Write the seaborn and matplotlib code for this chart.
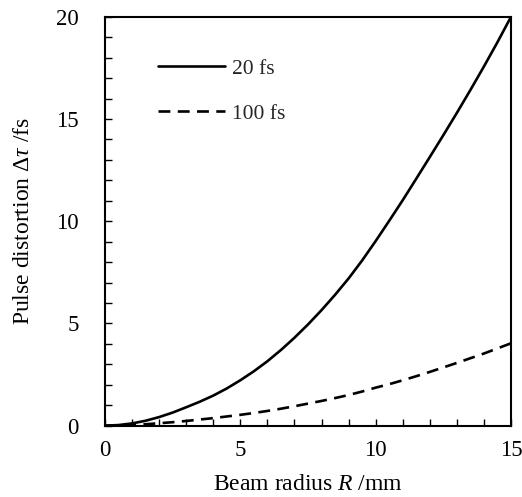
import numpy as np
import pandas as pd
import seaborn as sns
import matplotlib
matplotlib.use("Agg")
import matplotlib.pyplot as plt
from matplotlib.ticker import MultipleLocator

# Data (beam radius in mm, distortion in fs)
radius = [0, 0.5, 1, 1.5, 2, 2.5, 3, 3.5, 4, 4.5, 5, 5.5, 6, 6.5, 7, 7.5,
          8, 8.5, 9, 9.5, 10, 10.5, 11, 11.5, 12, 12.5, 13, 13.5, 14, 14.5, 15]
dist_20fs = [0.0, 0.03, 0.11, 0.24, 0.42, 0.64, 0.9, 1.17, 1.47, 1.82, 2.22, 2.66,
             3.15, 3.7, 4.3, 4.95, 5.65, 6.4, 7.2, 8.08, 9.03, 10.02, 11.03, 12.08,
             13.14, 14.21, 15.3, 16.42, 17.57, 18.76, 20.0]
dist_100fs = [0.0, 0.01, 0.03, 0.07, 0.12, 0.17, 0.23, 0.3, 0.37, 0.45, 0.53, 0.62,
              0.72, 0.83, 0.95, 1.08, 1.21, 1.35, 1.5, 1.67, 1.86, 2.03, 2.22, 2.42,
              2.63, 2.85, 3.07, 3.3, 3.53, 3.78, 4.03]
series_labels = ["20 fs", "100 fs"]

x_ticks = [0, 5, 10, 15]
y_ticks = [0, 5, 10, 15, 20]

sns.set_theme(style="white")
plt.rcParams["font.family"] = ["Liberation Serif", "DejaVu Serif"]
plt.rcParams["mathtext.fontset"] = "custom"
plt.rcParams["mathtext.rm"] = "Liberation Serif"
plt.rcParams["mathtext.it"] = "Liberation Serif:italic"
plt.rcParams["mathtext.bf"] = "Liberation Serif:bold"

df = pd.DataFrame({
    "R": radius + radius,
    "dt": dist_20fs + dist_100fs,
    "pulse": [series_labels[0]] * len(radius) + [series_labels[1]] * len(radius),
})

fig = plt.figure(figsize=(5.22, 4.97), dpi=100)
ax = fig.add_axes([0.201, 0.1435, 0.778, 0.8228])

sns.lineplot(data=df, x="R", y="dt", style="pulse",
             dashes={series_labels[0]: "", series_labels[1]: (4.5, 2.8)},
             color="black", linewidth=1.9, ax=ax, legend=True)

ax.set_xlim(0, 15)
ax.set_ylim(0, 20)
ax.set_xticks(x_ticks)
ax.set_yticks(y_ticks)
ax.xaxis.set_minor_locator(MultipleLocator(1))
ax.yaxis.set_minor_locator(MultipleLocator(1))
ax.tick_params(which="both", direction="in", length=5, width=1.0, color="black",
               bottom=True, left=True, top=False, right=False)
ax.tick_params(axis="x", which="major", pad=10, labelsize=16.5, labelcolor="black")
ax.tick_params(axis="y", which="major", pad=19, labelsize=16.5, labelcolor="black")

for s in ax.spines.values():
    s.set_visible(True)
    s.set_color("black")
    s.set_linewidth(1.5)

ax.set_xlabel(r"Beam radius $R$ /mm", fontsize=17, color="black", labelpad=10)
ax.set_ylabel(r"Pulse distortion $\Delta\tau$ /fs", fontsize=17, color="black", labelpad=16)

handles, labels = ax.get_legend_handles_labels()
ax.legend(handles, labels, loc="upper left", bbox_to_anchor=(0.083, 0.945),
          frameon=False, handlelength=3.1, handletextpad=0.32, labelspacing=1.15,
          fontsize=15.5)

fig.savefig("out.png", dpi=100)
